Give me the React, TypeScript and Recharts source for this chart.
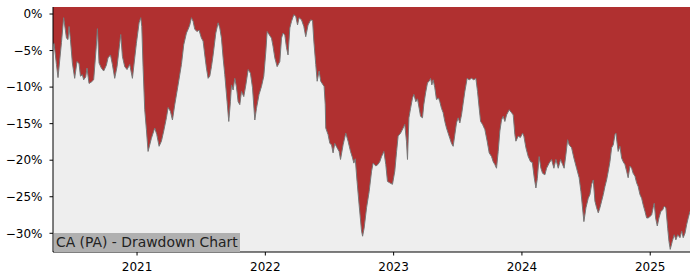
import React from 'react';
import { AreaChart, Area, XAxis, YAxis, CartesianGrid } from 'recharts';

// decimal years
const dates = [
  2020.345, 2020.353, 2020.372, 2020.384, 2020.411, 2020.428, 2020.450, 2020.462, 2020.470, 2020.481,
  2020.496, 2020.514, 2020.532, 2020.548, 2020.559, 2020.574, 2020.584, 2020.600, 2020.610, 2020.626,
  2020.644, 2020.662, 2020.682, 2020.691, 2020.704, 2020.722, 2020.740, 2020.761, 2020.774, 2020.793,
  2020.808, 2020.826, 2020.844, 2020.865, 2020.873, 2020.886, 2020.904, 2020.922, 2020.943, 2020.964,
  2020.982, 2020.995, 2021.016, 2021.029, 2021.037, 2021.047, 2021.060, 2021.073, 2021.086, 2021.112,
  2021.138, 2021.154, 2021.172, 2021.190, 2021.208, 2021.229, 2021.242, 2021.260, 2021.276, 2021.294,
  2021.320, 2021.346, 2021.364, 2021.385, 2021.398, 2021.411, 2021.424, 2021.437, 2021.450, 2021.468,
  2021.483, 2021.502, 2021.515, 2021.528, 2021.541, 2021.554, 2021.567, 2021.580, 2021.593, 2021.614,
  2021.632, 2021.645, 2021.658, 2021.671, 2021.684, 2021.702, 2021.715, 2021.728, 2021.736, 2021.749,
  2021.762, 2021.775, 2021.788, 2021.801, 2021.814, 2021.832, 2021.848, 2021.866, 2021.884, 2021.900,
  2021.918, 2021.931, 2021.951, 2021.970, 2021.988, 2022.004, 2022.014, 2022.029, 2022.048, 2022.060,
  2022.074, 2022.092, 2022.113, 2022.126, 2022.138, 2022.152, 2022.165, 2022.177, 2022.191, 2022.204,
  2022.222, 2022.237, 2022.251, 2022.263, 2022.282, 2022.300, 2022.315, 2022.333, 2022.354, 2022.368,
  2022.378, 2022.393, 2022.404, 2022.419, 2022.432, 2022.450, 2022.458, 2022.467, 2022.471, 2022.489,
  2022.503, 2022.516, 2022.528, 2022.541, 2022.559, 2022.575, 2022.586, 2022.606, 2022.627, 2022.645,
  2022.664, 2022.680, 2022.690, 2022.701, 2022.715, 2022.731, 2022.750, 2022.758, 2022.770, 2022.789,
  2022.809, 2022.828, 2022.840, 2022.861, 2022.877, 2022.892, 2022.906, 2022.924, 2022.939, 2022.952,
  2022.970, 2022.991, 2023.009, 2023.023, 2023.035, 2023.054, 2023.074, 2023.087, 2023.100, 2023.108,
  2023.119, 2023.132, 2023.147, 2023.158, 2023.173, 2023.186, 2023.199, 2023.210, 2023.225, 2023.235,
  2023.249, 2023.264, 2023.277, 2023.288, 2023.298, 2023.308, 2023.321, 2023.334, 2023.350, 2023.360,
  2023.373, 2023.386, 2023.399, 2023.412, 2023.425, 2023.438, 2023.451, 2023.464, 2023.477, 2023.490,
  2023.503, 2023.516, 2023.529, 2023.542, 2023.555, 2023.573, 2023.589, 2023.607, 2023.625, 2023.641,
  2023.654, 2023.667, 2023.678, 2023.693, 2023.711, 2023.729, 2023.745, 2023.763, 2023.776, 2023.789,
  2023.802, 2023.815, 2023.828, 2023.841, 2023.854, 2023.867, 2023.880, 2023.901, 2023.919, 2023.932,
  2023.945, 2023.953, 2023.971, 2023.988, 2024.005, 2024.015, 2024.031, 2024.049, 2024.067, 2024.081,
  2024.096, 2024.109, 2024.120, 2024.134, 2024.148, 2024.161, 2024.179, 2024.192, 2024.212, 2024.231,
  2024.249, 2024.265, 2024.283, 2024.301, 2024.317, 2024.329, 2024.343, 2024.356, 2024.368, 2024.387,
  2024.405, 2024.426, 2024.446, 2024.460, 2024.470, 2024.483, 2024.499, 2024.517, 2024.530, 2024.543,
  2024.556, 2024.569, 2024.582, 2024.595, 2024.608, 2024.621, 2024.634, 2024.647, 2024.660, 2024.673,
  2024.686, 2024.699, 2024.712, 2024.725, 2024.733, 2024.740, 2024.750, 2024.764, 2024.777, 2024.789,
  2024.803, 2024.816, 2024.828, 2024.842, 2024.855, 2024.867, 2024.881, 2024.894, 2024.906, 2024.920,
  2024.933, 2024.945, 2024.959, 2024.972, 2024.984, 2024.998, 2025.011, 2025.023, 2025.031, 2025.042,
  2025.055, 2025.068, 2025.083, 2025.097, 2025.109, 2025.122, 2025.136, 2025.146, 2025.156, 2025.172,
  2025.187, 2025.200, 2025.214, 2025.232, 2025.245, 2025.257, 2025.271, 2025.284, 2025.296, 2025.310,
];

// drawdown in percent
const drawdown = [
  -4.0, -4.0, -6.9, -8.7, -3.9, -0.5, -3.3, -3.5, -1.7, -3.5,
  -6.7, -8.8, -6.5, -6.8, -8.5, -8.3, -9.0, -8.6, -7.4, -9.5,
  -9.3, -9.0, -4.5, -2.0, -6.7, -7.4, -7.8, -7.0, -6.0, -5.6,
  -6.9, -8.8, -7.2, -4.0, -2.8, -5.8, -7.2, -7.6, -6.9, -8.8,
  -6.0, -4.0, -1.2, -0.5, -1.7, -7.2, -13.1, -15.8, -18.8, -17.0,
  -15.6, -16.5, -18.1, -17.4, -16.0, -14.2, -12.8, -13.3, -14.5, -12.4,
  -9.7, -6.9, -4.2, -2.6, -2.1, -1.5, -0.5, -1.0, -2.1, -2.4,
  -2.2, -3.3, -3.7, -5.6, -7.4, -8.8, -8.5, -7.2, -5.6, -2.6,
  -1.2, -1.9, -3.3, -6.0, -8.3, -12.0, -14.7, -12.0, -9.7, -10.4,
  -8.8, -10.0, -12.0, -12.4, -10.6, -11.3, -9.7, -7.6, -8.1, -10.1,
  -14.5, -12.9, -11.0, -9.9, -8.5, -5.1, -2.4, -2.8, -3.3, -4.4,
  -6.0, -7.2, -6.5, -3.3, -2.6, -2.9, -4.6, -5.6, -1.9, -1.0,
  -0.1, -0.3, -1.5, -0.5, -0.8, -1.7, -3.1, -1.5, -0.8, -0.9,
  -3.7, -6.9, -9.2, -7.8, -9.2, -9.7, -9.9, -12.4, -15.6, -16.5,
  -17.7, -17.9, -19.0, -17.7, -18.3, -18.8, -19.9, -17.9, -16.3, -17.4,
  -18.8, -19.7, -20.4, -19.8, -22.9, -26.1, -29.7, -30.4, -29.3, -26.5,
  -24.3, -21.5, -20.4, -20.8, -20.6, -20.2, -19.5, -18.8, -20.6, -22.9,
  -23.1, -23.3, -21.5, -18.8, -16.7, -16.3, -15.6, -15.1, -17.4, -19.9,
  -14.2, -12.9, -11.5, -11.0, -12.0, -11.6, -12.9, -14.0, -14.2, -12.4,
  -10.8, -9.4, -9.2, -8.8, -9.7, -9.0, -10.1, -11.7, -11.5, -12.0,
  -12.9, -13.5, -14.7, -15.6, -16.3, -17.0, -17.7, -18.1, -16.5, -14.9,
  -14.2, -14.9, -13.8, -12.2, -10.6, -8.8, -9.0, -8.8, -9.0, -8.8,
  -10.6, -12.9, -14.7, -15.1, -15.8, -17.4, -19.0, -19.5, -20.2, -20.6,
  -21.1, -18.8, -16.0, -14.5, -14.0, -14.7, -13.8, -13.1, -13.5, -13.8,
  -16.5, -17.4, -16.7, -16.9, -16.3, -16.7, -18.3, -19.5, -20.2, -20.3,
  -22.4, -23.8, -22.5, -19.5, -21.1, -21.8, -22.0, -21.1, -20.4, -19.9,
  -21.1, -19.9, -21.1, -19.9, -20.6, -21.1, -19.2, -17.2, -17.9, -18.3,
  -19.7, -21.1, -22.4, -24.3, -26.1, -28.4, -26.5, -25.2, -24.7, -23.3,
  -22.7, -25.6, -26.5, -27.2, -26.5, -25.6, -24.7, -23.6, -22.7, -21.5,
  -20.2, -18.3, -17.9, -16.5, -16.3, -17.4, -18.8, -18.1, -19.7, -20.2,
  -20.6, -21.5, -22.4, -20.8, -21.1, -21.8, -22.2, -23.1, -23.6, -24.7,
  -25.2, -26.1, -27.0, -27.9, -27.9, -27.7, -27.5, -26.5, -25.9, -27.9,
  -29.0, -27.9, -27.0, -26.8, -26.3, -26.5, -29.3, -31.1, -32.2, -31.1,
  -30.2, -30.9, -30.2, -30.6, -29.7, -30.6, -30.0, -28.8, -27.9, -27.0,
];

const yearTicks = [2021, 2022, 2023, 2024, 2025];
const pctTicks = [0, -5, -10, -15, -20, -25, -30];

const title = 'CA (PA) - Drawdown Chart';

const data = dates.map((t, i) => ({ t, dd: drawdown[i] }));

const X_DOMAIN: [number, number] = [2020.345, 2025.31];
const Y_DOMAIN: [number, number] = [-32.56, 0.96];

const tickFont = { fontFamily: 'DejaVu Sans', fontSize: 12, fill: '#000' };

const fmtPct = (v: number) => (v === 0 ? '0%' : '\u2212' + Math.abs(v) + '%');

export default function App() {
  return (
    <div style={{ position: 'absolute', left: 0, top: 0, width: 700, height: 280 }}>
      <AreaChart width={700} height={280} data={data} margin={{ top: 7, right: 10, left: 0, bottom: 0 }}>
        <CartesianGrid horizontal={false} vertical={false} fill="#b03030" fillOpacity={1} />
        <XAxis
          dataKey="t"
          type="number"
          domain={X_DOMAIN}
          allowDataOverflow
          ticks={yearTicks}
          tickFormatter={(v) => String(v)}
          height={28}
          tick={tickFont}
          tickSize={3.5}
          tickMargin={7}
          axisLine={{ stroke: '#000' }}
          tickLine={{ stroke: '#000' }}
        />
        <XAxis xAxisId="top" dataKey="t" type="number" domain={X_DOMAIN} orientation="top" height={0} tick={false} tickLine={false} axisLine={{ stroke: '#000' }} />
        <YAxis
          type="number"
          domain={Y_DOMAIN}
          allowDataOverflow
          ticks={pctTicks}
          tickFormatter={fmtPct}
          width={53}
          tick={tickFont}
          tickSize={3.5}
          tickMargin={7}
          axisLine={{ stroke: '#000' }}
          tickLine={{ stroke: '#000' }}
        />
        <YAxis yAxisId="right" type="number" domain={Y_DOMAIN} orientation="right" width={0} tick={false} tickLine={false} axisLine={{ stroke: '#000' }} />
        <Area
          type="linear"
          dataKey="dd"
          baseValue={Y_DOMAIN[0]}
          stroke="#777"
          strokeWidth={1}
          fill="#eeeeee"
          fillOpacity={1}
          dot={false}
          activeDot={false}
          isAnimationActive={false}
        />
      </AreaChart>
      <div
        style={{
          position: 'absolute',
          left: 54,
          top: 233,
          width: 186,
          height: 19,
          lineHeight: '19px',
          background: '#b0b0b0',
          color: '#222',
          fontFamily: 'DejaVu Sans',
          fontSize: 13.9,
          paddingLeft: 2,
          boxSizing: 'border-box',
          whiteSpace: 'nowrap',
        }}
      >
        {title}
      </div>
    </div>
  );
}
